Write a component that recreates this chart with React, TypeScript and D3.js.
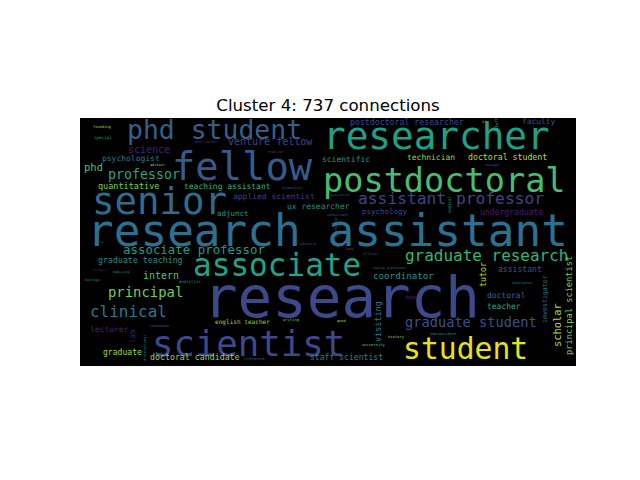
import * as d3 from "d3"

// word cloud terms, relative weight (largest = 1) and colour position on viridis
const words = [
  "research", "research assistant", "researcher", "postdoctoral", "fellow", "senior",
  "phd student", "associate", "scientist", "student", "assistant professor",
  "graduate research", "graduate student", "clinical", "principal", "associate professor",
  "intern", "graduate teaching", "professor", "science", "phd", "psychologist",
  "quantitative", "teaching assistant", "venture fellow", "postdoctoral researcher",
  "scientific", "faculty", "technician", "doctoral student", "applied scientist",
  "ux researcher", "adjunct", "psychology", "undergraduate", "coordinator", "assistant",
  "doctoral", "teacher", "lecturer", "english teacher", "doctoral candidate", "graduate",
  "staff scientist", "dean", "visiting", "scholar", "principal scientist", "investigator",
  "tutor", "lab", "founding", "special", "development", "advisor", "english", "biomedical",
  "specialist", "ai", "manager", "writer", "project", "medicine", "biology", "analytics",
  "consultant", "instructor", "educator", "lead", "officer", "course instructor",
  "instructor", "candidate", "writing", "good", "history", "university", "literature",
  "neuroscience", "international", "medical", "staff",
]

const weights = [
  1, 0.772, 0.655, 0.584, 0.675, 0.65, 0.46, 0.54, 0.62, 0.517, 0.283, 0.278, 0.238,
  0.278, 0.242, 0.216, 0.174, 0.144, 0.231, 0.174, 0.183, 0.139, 0.148, 0.139, 0.174,
  0.143, 0.139, 0.137, 0.139, 0.143, 0.139, 0.139, 0.13, 0.13, 0.141, 0.16, 0.141, 0.139,
  0.139, 0.139, 0.106, 0.144, 0.141, 0.141, 0.094, 0.148, 0.181, 0.151, 0.115, 0.144,
  0.13, 0.064, 0.073, 0.063, 0.061, 0.064, 0.061, 0.059, 0.07, 0.056, 0.052, 0.056,
  0.059, 0.061, 0.07, 0.061, 0.061, 0.061, 0.061, 0.061, 0.056, 0.061, 0.061, 0.066,
  0.063, 0.066, 0.066, 0.063, 0.063, 0.061, 0.07, 0.07,
]

const tones = [
  0.22, 0.37, 0.57, 0.7, 0.28, 0.35, 0.3, 0.58, 0.22, 0.96, 0.2, 0.66, 0.25, 0.4, 0.78,
  0.55, 0.72, 0.48, 0.6, 0.08, 0.7, 0.42, 0.8, 0.66, 0.2, 0.22, 0.55, 0.25, 0.85, 0.9,
  0.18, 0.5, 0.55, 0.22, 0.08, 0.5, 0.25, 0.35, 0.62, 0.1, 0.85, 0.85, 0.85, 0.45, 0.08,
  0.4, 0.88, 0.8, 0.42, 0.88, 0.1, 0.85, 0.55, 0.1, 0.85, 0.15, 0.2, 0.3, 0.55, 0.3, 0.2,
  0.1, 0.5, 0.45, 0.5, 0.3, 0.4, 0.2, 0.2, 0.2, 0.45, 0.45, 0.3, 0.75, 0.85, 0.85, 0.75,
  0.35, 0.5, 0.42, 0.6, 0.65,
]

// placement of each word on the 496 x 248 cloud canvas: [left, baseline, vertical]
const placements: [number, number, number][] = [
  [123, 199, 0], [7, 128, 0], [243, 31, 0], [243, 74, 0], [92, 62, 0], [12, 96, 0],
  [47, 21, 0], [113, 158, 0], [72, 238, 0], [323, 241, 0], [278, 86, 0], [325, 143, 0],
  [325, 209, 0], [10, 199, 0], [28, 179, 0], [43, 136, 0], [63, 161, 0], [18, 145, 0],
  [28, 61, 0], [48, 35, 0], [4, 53, 0], [22, 43, 0], [18, 71, 0], [104, 71, 0],
  [148, 27, 0], [270, 7, 0], [242, 44, 0], [442, 6, 0], [327, 42, 0], [388, 42, 0],
  [153, 81, 0], [207, 91, 0], [137, 98, 0], [282, 96, 0], [400, 97, 0], [293, 161, 0],
  [418, 154, 0], [407, 180, 0], [407, 191, 0], [10, 214, 0], [135, 206, 0], [70, 242, 0],
  [23, 237, 0], [230, 242, 0], [325, 181, 0], [301, 224, 1], [481, 229, 1], [492, 237, 1],
  [467, 205, 1], [406, 169, 1], [55, 225, 1], [13, 10, 0], [14, 21, 0], [114, 25, 0],
  [70, 48, 0], [188, 35, 0], [202, 71, 0], [250, 78, 0], [402, 5, 0], [406, 48, 0],
  [14, 125, 0], [13, 153, 0], [33, 155, 0], [5, 163, 0], [99, 165, 0], [247, 98, 0],
  [257, 120, 1], [220, 127, 0], [265, 132, 0], [283, 137, 0], [293, 151, 0],
  [432, 166, 0], [70, 209, 0], [203, 203, 0], [257, 204, 0], [308, 220, 0], [282, 228, 0],
  [163, 242, 0], [350, 217, 0], [66, 244, 1], [371, 95, 1], [418, 12, 1],
]

const width = 640
const height = 480
const box = { left: 80, top: 118, width: 496, height: 248 }

export default function App() {
  const x = d3.scaleLinear().domain([0, 496]).range([box.left, box.left + box.width])
  const y = d3.scaleLinear().domain([0, 248]).range([box.top, box.top + box.height])
  const size = d3.scaleLinear().domain([0, 1]).range([0, 57.5 * (box.width / 496)])
  const colour = (t: number) => d3.interpolateViridis(t)

  return (
    <svg
      width={width}
      height={height}
      style={{ position: "absolute", left: 0, top: 0, background: "#fff" }}
    >
      <text
        x={box.left + box.width / 2}
        y={111}
        textAnchor="middle"
        fontFamily="DejaVu Sans"
        fontSize={16.67}
        fill="#000"
      >
        Cluster 4: 737 connections
      </text>
      <defs>
        <clipPath id="cloud-clip">
          <rect x={box.left} y={box.top} width={box.width} height={box.height} />
        </clipPath>
      </defs>
      <rect x={box.left} y={box.top} width={box.width} height={box.height} fill="#000" />
      <g fontFamily="DejaVu Sans Mono" clipPath="url(#cloud-clip)">
        {words.map((w, i) => {
          const [px, py, vertical] = placements[i]
          const tx = x(px)
          const ty = y(py)
          return (
            <text
              key={i}
              x={tx}
              y={ty}
              fontSize={size(weights[i])}
              fill={colour(tones[i])}
              transform={vertical ? `rotate(-90 ${tx} ${ty})` : undefined}
              style={{ whiteSpace: "pre" }}
            >
              {w}
            </text>
          )
        })}
      </g>
    </svg>
  )
}
